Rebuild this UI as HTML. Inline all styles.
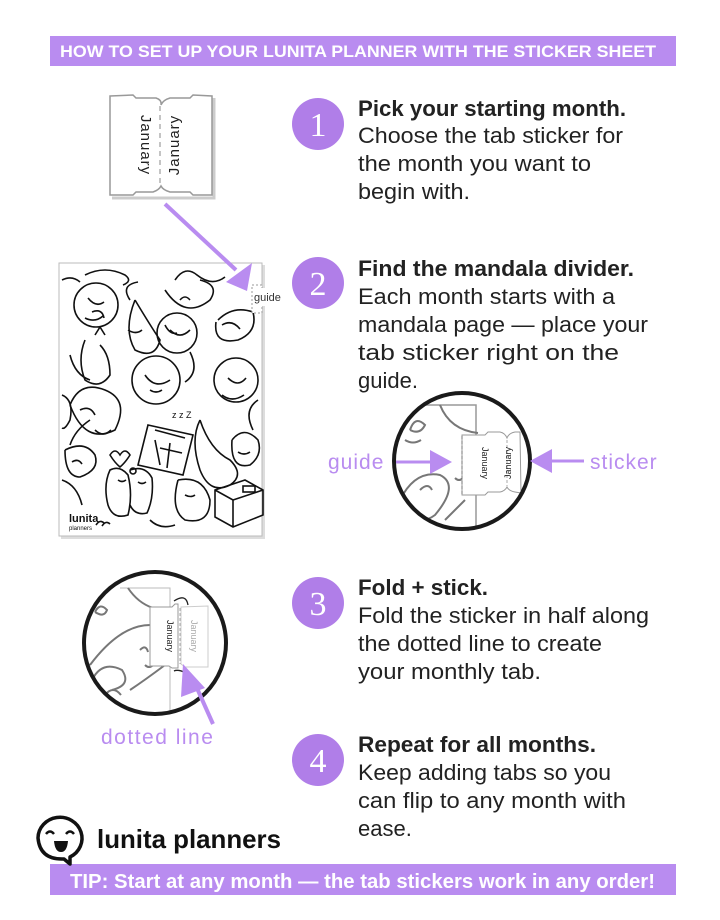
<!DOCTYPE html>
<html><head><meta charset="utf-8"><style>
html,body{margin:0;padding:0;background:#fff;}
svg{display:block;}
</style></head><body>
<svg width="720" height="920" viewBox="0 0 720 920" xmlns="http://www.w3.org/2000/svg" font-family="Liberation Sans, sans-serif">
<defs>
<clipPath id="c2"><circle cx="462" cy="461" r="68"/></clipPath>
<clipPath id="c3"><circle cx="155" cy="643" r="71"/></clipPath>
</defs>
<rect x="50" y="36" width="626" height="30" fill="#b98cf0"/>
<text x="60" y="57" fill="#fff" font-weight="bold" font-size="17" textLength="596" lengthAdjust="spacingAndGlyphs">HOW TO SET UP YOUR LUNITA PLANNER  WITH THE STICKER SHEET</text>
<rect x="50" y="864" width="626" height="31" fill="#b98cf0"/>
<text x="70" y="888" fill="#fff" font-weight="bold" font-size="20" textLength="585" lengthAdjust="spacingAndGlyphs">TIP: Start at any month — the tab stickers work in any order!</text>

<g>
<path d="M112,198 L214,198 L214,98" fill="none" stroke="#ccc" stroke-width="3"/>
<path d="M110,96 L133,95 L136,98 L156,98 Q162,100 161,105 Q163,100 170,98 L190,98 L193,95 L212,96 L212,195 L193,195 L190,192 L170,192 Q163,190 161,186 Q159,190 153,192 L136,192 L133,195 L110,195 Z" fill="#fff" stroke="#999" stroke-width="1.5"/>
<line x1="160" y1="106" x2="160" y2="186" stroke="#888" stroke-dasharray="5,4"/>
<text transform="translate(141,145) rotate(90)" font-size="15" text-anchor="middle" fill="#222" letter-spacing="1">January</text>
<text transform="translate(179,145) rotate(-90)" font-size="15" text-anchor="middle" fill="#222" letter-spacing="1">January</text>
</g>

<rect x="61" y="265" width="204" height="274" fill="#ddd"/>
<rect x="59" y="263" width="203" height="273" fill="#fff" stroke="#bbb"/>
<g fill="none" stroke="#111" stroke-width="1.6">
<circle cx="96" cy="305" r="22"/><path d="M88,298 q8,10 16,4 M92,312 q10,-4 12,6 M85,318 q10,5 18,-2"/>
<path d="M85,275 q20,-10 40,0 q8,6 -2,10 M62,280 q10,-5 18,2"/>
<path d="M130,300 q-10,-15 8,-18 M135,300 q-12,30 0,50 q20,10 25,-10 q-10,-15 -25,-40 M128,330 q8,5 14,0"/>
<path d="M175,280 q10,-15 22,-5 q15,12 28,2 M165,290 q20,30 45,10 q10,-15 -10,-20 M180,300 q5,-6 10,0"/>
<path d="M218,320 q15,-15 35,-8 q5,20 -15,28 q-25,5 -22,-18 M222,325 q10,-6 18,4"/>
<circle cx="177" cy="333" r="20"/><path d="M170,330 q10,10 20,0 M190,352 q10,20 -5,30 M165,325 q5,10 12,8"/>
<path d="M85,340 q-8,20 0,40 q15,10 25,-5 q0,-20 -10,-30 M95,335 l5,-8 5,8 M70,355 q5,20 20,25"/>
<circle cx="156" cy="380" r="24"/><path d="M145,375 q10,15 25,5 M150,390 q6,4 12,0"/>
<circle cx="236" cy="380" r="22"/><path d="M228,378 q10,10 18,0 M222,395 q10,8 22,0"/>
<path d="M62,395 q12,5 8,25 q-5,10 -8,8 M258,400 q-15,10 -5,30"/>
<path d="M70,405 q10,-25 35,-15 q25,10 10,40 q-30,15 -45,-25 M80,410 q10,-5 15,5"/>
<path d="M90,420 q-15,10 -20,25 M95,430 q8,8 16,0"/>
<path d="M148,425 l45,10 -10,40 -45,-10 z M155,430 l30,8 M155,440 l5,25 M170,443 l-3,25 M160,448 l22,5"/>
<text x="172" y="418" font-size="9" fill="#111" stroke="none">z z Z</text>
<path d="M200,420 q-10,20 0,50 q10,25 30,15 q15,-10 0,-25 q-20,-10 -30,-40"/>
<path d="M232,440 q12,-15 26,0 q5,15 -8,25 q-20,5 -18,-25 M238,452 q6,4 12,0"/>
<path d="M120,455 q-5,-8 -10,0 q5,8 10,12 q5,-4 10,-12 q-5,-8 -10,0 z"/>
<circle cx="133" cy="471" r="3"/>
<path d="M65,450 q20,-10 30,5 q5,15 -15,22 q-15,0 -15,-27 M72,462 q6,-4 10,2"/>
<path d="M62,480 q15,5 20,25"/>
<path d="M110,470 q10,-5 18,5 q5,20 0,40 q-15,5 -20,-10 q-5,-20 2,-35 z M130,470 q15,-5 22,8 q2,20 -5,35 q-12,3 -17,-8 M118,480 q4,3 8,0 M138,482 q4,3 8,0"/>
<path d="M178,480 q25,-5 32,20 q0,25 -25,20 q-15,-10 -7,-40 M185,495 q6,3 10,0"/>
<path d="M215,490 l30,-10 18,10 0,25 -30,12 -18,-10 z M215,490 l18,10 30,-10 M233,500 l0,27"/>
<rect x="243" y="486" width="12" height="6"/>
<path d="M96,525 q4,-6 8,-2 M102,526 q4,-6 8,-2 M150,520 q10,10 25,5"/>
</g>
<text x="69" y="522" font-size="11" font-weight="bold" fill="#111">lunita</text>
<text x="69" y="530" font-size="6" fill="#111">planners</text>
<rect x="252" y="285" width="10" height="28" fill="#fff" stroke="#999" stroke-dasharray="2,2"/>
<rect x="253" y="288" width="36" height="18" fill="#fff"/>
<text x="254" y="301" font-size="11" fill="#333">guide</text>

<line x1="165" y1="204" x2="236" y2="270" stroke="#b98cf0" stroke-width="4"/>
<path d="M226,282 L252,263 L247,291 Z" fill="#b98cf0"/>

<g clip-path="url(#c2)">
<rect x="380" y="390" width="200" height="150" fill="#fff"/>
<path d="M380,405 L476,405 L476,540" fill="none" stroke="#999" stroke-width="1.5"/>
<g fill="none" stroke="#777" stroke-width="2">
<path d="M440,405 q10,25 38,28"/>
<path d="M410,430 q5,-15 15,-5 q-5,10 -15,5 M405,440 q8,5 16,0"/>
<path d="M400,500 q15,-30 40,-25 q20,10 -5,40 q-20,15 -35,-15"/>
<path d="M420,490 q8,-8 12,0 M445,520 q10,-10 20,-20 M455,478 q4,4 8,0"/>
</g>
<path d="M462,435 L485,435 L488,432 L500,432 Q505,433 507,438 Q509,433 515,432 L520,432 L521,493 L515,492 Q509,491 507,487 Q505,491 500,492 L488,492 L485,495 L462,495 Z" fill="#fff" stroke="#999"/>
<line x1="462" y1="436" x2="462" y2="494" stroke="#777" stroke-dasharray="3,2"/>
<line x1="507" y1="440" x2="507" y2="486" stroke="#aaa" stroke-dasharray="3,2"/>
<text transform="translate(482,463) rotate(90)" font-size="9" text-anchor="middle" fill="#222">January</text>
<text transform="translate(511,463) rotate(-90)" font-size="9" text-anchor="middle" fill="#222">January</text>
</g>
<circle cx="462" cy="461" r="68" fill="none" stroke="#1a1a1a" stroke-width="4"/>
<line x1="396" y1="462" x2="440" y2="462" stroke="#b98cf0" stroke-width="3"/>
<path d="M430,450 L452,462 L430,474 Z" fill="#b98cf0"/>
<line x1="584" y1="461" x2="545" y2="461" stroke="#b98cf0" stroke-width="3"/>
<path d="M552,449 L530,461 L552,473 Z" fill="#b98cf0"/>
<text x="328" y="469" font-size="21" fill="#b98cf0" letter-spacing="1">guide</text>
<text x="590" y="469" font-size="21" fill="#b98cf0" letter-spacing="1">sticker</text>

<g clip-path="url(#c3)">
<rect x="80" y="570" width="160" height="150" fill="#fff"/>
<path d="M120,588 L170,588 L170,720" fill="none" stroke="#bbb"/>
<g fill="none" stroke="#777" stroke-width="2">
<path d="M128,588 q10,15 25,20"/>
<path d="M95,612 q5,-10 12,-2 q-3,8 -12,2"/>
<path d="M90,665 q30,-40 60,-40 M92,680 q10,-20 30,-10 q10,15 -10,20 M130,690 q15,-10 35,-25"/>
<path d="M140,650 q6,-6 8,2 M145,665 q4,4 8,0 M105,695 q8,-10 16,0"/>
</g>
<path d="M150,607 L172,607 L175,604 L178,604 L178,668 L172,668 L169,666 L150,666 Z" fill="#fff" stroke="#999"/>
<path d="M181,607 L208,606 L208,667 L185,667 L181,664 Z" fill="#fff" stroke="#ccc"/>
<line x1="180" y1="608" x2="180" y2="664" stroke="#aaa" stroke-dasharray="3,2"/>
<text transform="translate(167,636) rotate(90)" font-size="9" text-anchor="middle" fill="#222">January</text>
<text transform="translate(191,636) rotate(90)" font-size="9" text-anchor="middle" fill="#aaa">January</text>
<path d="M188,605 q-2,-12 -14,-4" fill="none" stroke="#222" stroke-width="1.3"/>
<path d="M186,673 q-8,-4 -12,-2" fill="none" stroke="#222" stroke-width="1.3"/>
</g>
<circle cx="155" cy="643" r="71" fill="none" stroke="#1a1a1a" stroke-width="4"/>
<line x1="213" y1="724" x2="192" y2="677" stroke="#b98cf0" stroke-width="4"/>
<path d="M181,697 L183,664 L205,688 Z" fill="#b98cf0"/>
<text x="101" y="744" font-size="21" fill="#b98cf0" letter-spacing="1.5">dotted line</text>

<g fill="#b07ee8">
<circle cx="318" cy="124" r="26"/><circle cx="318" cy="283" r="26"/><circle cx="318" cy="603" r="26"/><circle cx="318" cy="760" r="26"/>
</g>
<g fill="#fff" font-family="Liberation Serif, serif" font-size="34" text-anchor="middle">
<text x="318" y="136">1</text><text x="318" y="295">2</text><text x="318" y="615">3</text><text x="318" y="772">4</text>
</g>

<g fill="#222" font-size="22">
<text x="358" y="116" font-weight="bold" textLength="268" lengthAdjust="spacingAndGlyphs">Pick your starting month.</text>
<text x="358" y="143" textLength="265" lengthAdjust="spacingAndGlyphs">Choose the tab sticker for</text>
<text x="358" y="171" textLength="233" lengthAdjust="spacingAndGlyphs">the month you want to</text>
<text x="358" y="199" textLength="112" lengthAdjust="spacingAndGlyphs">begin with.</text>

<text x="358" y="276" font-weight="bold" textLength="276" lengthAdjust="spacingAndGlyphs">Find the mandala divider.</text>
<text x="358" y="304" textLength="257" lengthAdjust="spacingAndGlyphs">Each month starts with a</text>
<text x="358" y="332" textLength="290" lengthAdjust="spacingAndGlyphs">mandala page — place your</text>
<text x="358" y="360" textLength="261" lengthAdjust="spacingAndGlyphs">tab sticker right on the</text>
<text x="358" y="388">guide.</text>

<text x="358" y="595" font-weight="bold" textLength="130" lengthAdjust="spacingAndGlyphs">Fold + stick.</text>
<text x="358" y="623" textLength="291" lengthAdjust="spacingAndGlyphs">Fold the sticker in half along</text>
<text x="358" y="651" textLength="244" lengthAdjust="spacingAndGlyphs">the dotted line to create</text>
<text x="358" y="679" textLength="183" lengthAdjust="spacingAndGlyphs">your monthly tab.</text>

<text x="358" y="752" font-weight="bold" textLength="238" lengthAdjust="spacingAndGlyphs">Repeat for all months.</text>
<text x="358" y="780" textLength="253" lengthAdjust="spacingAndGlyphs">Keep adding tabs so you</text>
<text x="358" y="808" textLength="268" lengthAdjust="spacingAndGlyphs">can flip to any month with</text>
<text x="358" y="836">ease.</text>
</g>

<path d="M70,857 L70,864 L64,859 Q40,860 38,838 A22,21 0 1 1 70,857 Z" fill="#fff" stroke="#111" stroke-width="3.5" stroke-linejoin="round"/>
<path d="M46,834 q4,-5 8,0 M66,834 q4,-5 8,0" fill="none" stroke="#111" stroke-width="2.5"/>
<path d="M54,841 L68,841 Q67,852 61,852 Q55,852 54,841 Z" fill="#111"/>
<text x="97" y="848" font-size="26" font-weight="bold" fill="#111" textLength="184" lengthAdjust="spacingAndGlyphs">lunita planners</text>
</svg>
</body></html>
